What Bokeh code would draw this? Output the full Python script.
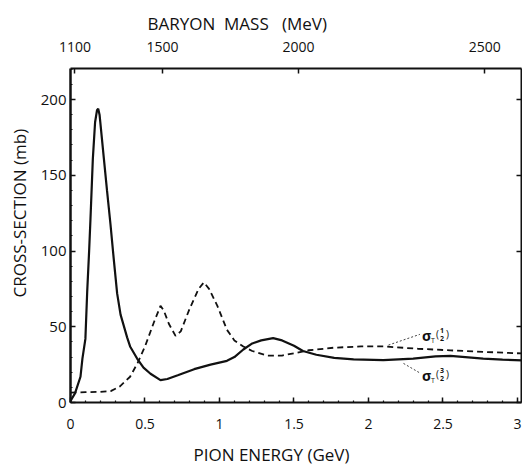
from bokeh.plotting import figure
from bokeh.models import Range1d, LinearAxis, FixedTicker, Label, Title
from bokeh.embed import file_html
from bokeh.resources import INLINE

# ---------------- data ----------------
# sigma_T(3/2): solid curve  (pion kinetic energy GeV, cross-section mb)
solid_x = [0.00, 0.03, 0.067, 0.08, 0.10, 0.112, 0.125, 0.134, 0.15, 0.165, 0.178, 0.186,
           0.195, 0.21, 0.224, 0.245, 0.268, 0.29, 0.313, 0.336, 0.38, 0.40, 0.447, 0.49,
           0.537, 0.604, 0.65, 0.72, 0.83, 0.94, 1.05, 1.10, 1.16, 1.22, 1.28, 1.36,
           1.42, 1.50, 1.56, 1.65, 1.77, 1.90, 2.10, 2.30, 2.45, 2.55, 2.65, 2.77,
           2.90, 3.03]
solid_y = [1.0, 6.0, 17.0, 29.0, 42.0, 73.0, 100.0, 121.0, 161.0, 185.0, 193.0, 194.0,
           190.0, 175.0, 161.0, 140.0, 118.0, 95.0, 72.0, 58.0, 43.0, 37.0, 29.0, 23.0,
           19.0, 14.8, 15.5, 18.0, 22.0, 25.0, 27.5, 30.0, 35.0, 39.0, 41.0, 42.5,
           41.0, 37.5, 34.0, 31.5, 29.5, 28.5, 28.0, 29.0, 30.5, 30.8, 30.0, 29.0,
           28.3, 27.8]

# sigma_T(1/2): dashed curve
dash_x = [0.00, 0.10, 0.20, 0.27, 0.33, 0.40, 0.45, 0.50, 0.56, 0.604, 0.625, 0.66,
          0.705, 0.74, 0.80, 0.86, 0.895, 0.93, 0.985, 1.05, 1.10, 1.16, 1.22, 1.32,
          1.42, 1.50, 1.60, 1.77, 1.95, 2.10, 2.33, 2.55, 2.80, 3.03]
dash_y = [6.5, 6.8, 7.0, 7.5, 10.5, 17.0, 26.0, 37.0, 53.0, 63.8, 61.0, 52.0,
          44.0, 47.0, 62.0, 75.0, 79.3, 75.0, 64.0, 48.0, 41.0, 37.0, 34.0, 31.0,
          31.0, 32.5, 34.5, 36.2, 37.0, 37.0, 35.5, 34.4, 33.3, 32.4]

x_ticks = [0, 0.5, 1, 1.5, 2, 2.5, 3]
x_tick_labels = ["0", "0.5", "1", "1.5", "2", "2.5", "3"]
y_ticks = [0, 50, 100, 150, 200]
y_tick_labels = ["0", "50", "100", "150", "200"]
mass_labels = ["1100", "1500", "2000", "2500"]
mass_tick_energy = [0.03, 0.617, 1.53, 2.78]   # pion energy (GeV) at each baryon-mass tick

x_title = "PION ENERGY (GeV)"
y_title = "CROSS-SECTION (mb)"
top_title = "BARYON\u00a0\u00a0MASS\u00a0\u00a0\u00a0(MeV)"

FONT = "Open Sans"
INK = "#111111"

p = figure(width=522, height=468, output_backend="svg", toolbar_location=None,
           x_range=Range1d(0, 3.027), y_range=Range1d(0, 220.5),
           x_axis_location=None, y_axis_location=None,
           min_border_left=70, min_border_right=1, min_border_top=68, min_border_bottom=65)
p.grid.visible = False
p.outline_line_color = None
p.background_fill_color = "white"
p.border_fill_color = "white"


def style(ax, size="15px"):
    ax.axis_line_color = INK
    ax.axis_line_width = 2
    ax.major_tick_line_color = INK
    ax.major_tick_line_width = 1.5
    ax.major_tick_in = 5
    ax.major_tick_out = 0
    ax.minor_tick_line_color = INK
    ax.minor_tick_line_width = 1.2
    ax.minor_tick_in = 2
    ax.minor_tick_out = 0
    ax.major_label_text_font = FONT
    ax.major_label_text_font_size = size
    ax.major_label_text_color = INK


bottom = LinearAxis(ticker=FixedTicker(ticks=x_ticks, minor_ticks=[i / 10 for i in range(31)]),
                    major_label_overrides=dict(zip(x_ticks, x_tick_labels)))
style(bottom, "14px")
bottom.major_label_standoff = 16
p.add_layout(bottom, "below")

left = LinearAxis(ticker=FixedTicker(ticks=y_ticks, minor_ticks=list(range(0, 221, 10))),
                  major_label_overrides=dict(zip(y_ticks, y_tick_labels)))
style(left, "15px")
left.axis_line_width = 2.5
left.major_label_standoff = 4
p.add_layout(left, "left")

top = LinearAxis(ticker=FixedTicker(ticks=mass_tick_energy, minor_ticks=[]),
                 major_label_overrides=dict(zip(mass_tick_energy, mass_labels)))
style(top, "14px")
top.major_label_standoff = 17
p.add_layout(top, "above")

right = LinearAxis(ticker=FixedTicker(ticks=y_ticks, minor_ticks=[]),
                   major_label_overrides={t: "" for t in y_ticks})
style(right)
right.major_label_standoff = 0
p.add_layout(right, "right")

# axis titles as side titles, shifted like the reference
tstyle = dict(text_font=FONT, text_font_size="17px", text_color=INK,
              text_font_style="normal", align="left")
p.add_layout(Title(text="\n" + x_title, offset=123, vertical_align="top", standoff=0,
                   text_line_height=0.5, **tstyle), "below")
p.add_layout(Title(text=top_title, offset=77, vertical_align="bottom", standoff=8, **tstyle), "above")
p.add_layout(Title(text=y_title, offset=105, vertical_align="top", standoff=10, **tstyle), "left")

# curves
p.line(solid_x, solid_y, line_color=INK, line_width=2.2)
p.line(dash_x, dash_y, line_color=INK, line_width=1.8, line_dash="6 4")

# leader lines
p.line([2.134, 2.345], [37.9, 45.0], line_color=INK, line_width=0.8, line_dash="2 2")
p.line([2.235, 2.345], [25.8, 19.5], line_color=INK, line_width=0.8, line_dash="2 2")


def sigma_label(x, y, top_digit):
    common = dict(x=x, y=y, text_font=FONT, text_color=INK, text_baseline="middle",
                  text_align="left")
    p.add_layout(Label(text="σ", text_font_size="14px", text_font_style="bold", **common))
    p.add_layout(Label(text="T", text_font_size="7px", x_offset=9, y_offset=-5, **common))
    p.add_layout(Label(text="(", text_font_size="10px", x_offset=14, y_offset=2, **common))
    p.add_layout(Label(text=top_digit, text_font_size="7px", text_font_style="bold",
                       x_offset=18, y_offset=5, **common))
    p.add_layout(Label(text="2", text_font_size="7px", text_font_style="bold",
                       x_offset=18, y_offset=-3, **common))
    p.add_layout(Label(text=")", text_font_size="10px", x_offset=24, y_offset=2, **common))


sigma_label(2.36, 44.1, "1")
sigma_label(2.36, 17.8, "3")

open("out.html", "w").write(file_html(p, INLINE))
